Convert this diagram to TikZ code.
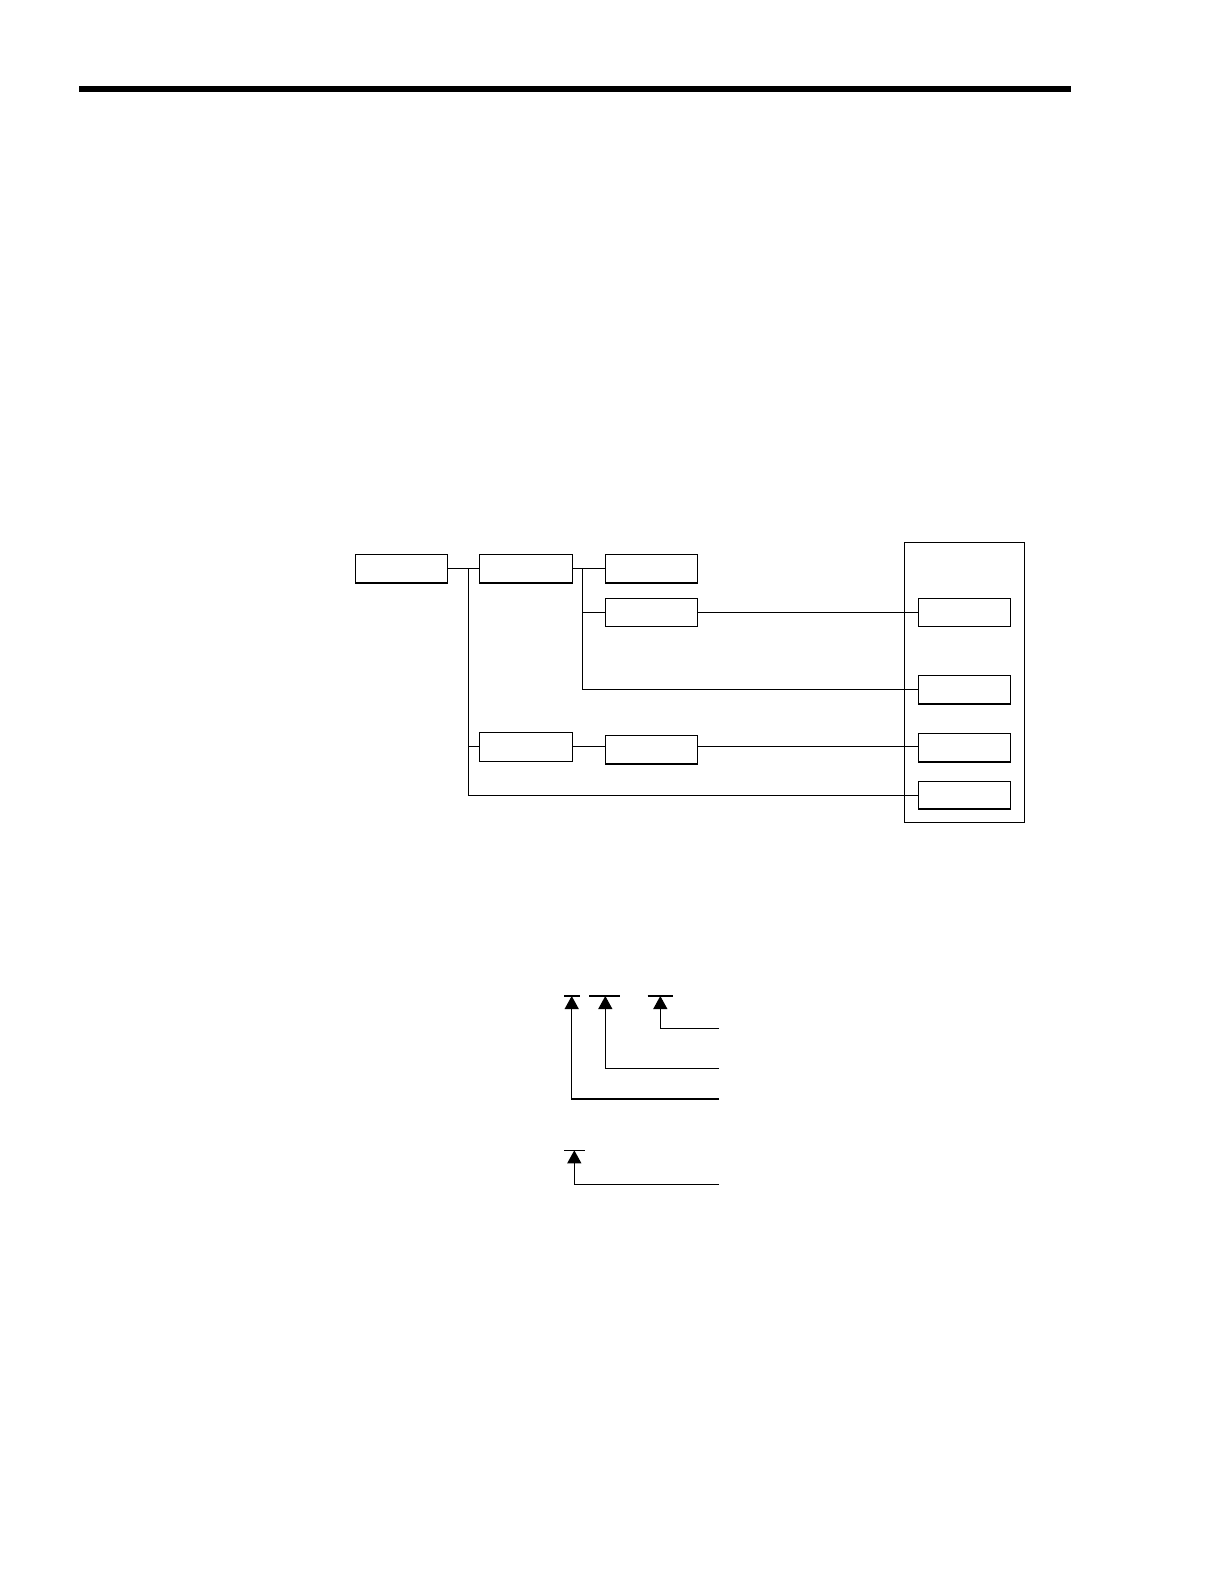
\documentclass[tikz,border=0pt]{standalone}
\usetikzlibrary{arrows.meta}
\begin{document}
\begin{tikzpicture}[x=1pt,y=-1pt,
  line width=1.2pt,
  box/.style={draw,rectangle,inner sep=0pt,minimum width=92pt,minimum height=28.5pt},
  wire/.style={line width=1.1pt},
  ptr/.style={line width=1.1pt,-{Triangle[length=13pt,width=14pt]}},
  bar/.style={line width=1.1pt}]
\useasboundingbox (0,0) rectangle (1224,1584);
% top rule
\fill (79,85.7) rectangle (1071,92.3);
% boxes
\node[box] (A) at (401.3,568.7) {};
\node[box,minimum width=93pt] (B) at (525.8,568.7) {};
\node[box] (E) at (651.5,568.7) {};
\node[box,minimum height=28pt] (F) at (651.5,612.3) {};
\node[box,minimum width=93pt,minimum height=29pt] (C) at (525.8,746.8) {};
\node[box] (D) at (651.3,749.7) {};
\node[draw,rectangle,inner sep=0pt,minimum width=120pt,minimum height=280pt] (outer) at (964.3,682.3) {};
\node[box,minimum height=28pt] (G1) at (964.3,612.3) {};
\node[box] (G2) at (964.3,689.7) {};
\node[box] (G3) at (964.3,747.7) {};
\node[box,minimum height=27.3pt] (G4) at (964.3,795.3) {};
% connectors
\coordinate (t1) at (468.3,568.7);
\coordinate (t2) at (582.3,568.7);
\draw[wire] (A.east) -- (B.west);
\draw[wire] (B.east) -- (E.west);
\draw[wire] (t1) |- (G4.west);
\draw[wire] (t1 |- C.west) -- (C.west);
\draw[wire] (t2) |- (G2.west);
\draw[wire] (t2 |- F.west) -- (F.west);
\draw[wire] (F.east) -- (G1.west);
\draw[wire] (C.east) -- (D.west |- C.east);
\draw[wire] (D.east |- C.east) -- (G3.west |- C.east);
% pointer diagram
\coordinate (b1) at (571.7,996);
\coordinate (b2) at (605.3,996);
\coordinate (b3) at (660.3,996);
\coordinate (b4) at (574.3,1150.3);
\coordinate (e1) at (719,1099);
\coordinate (e2) at (719,1068.3);
\coordinate (e3) at (719,1028.3);
\coordinate (e4) at (719,1184.3);
\draw[bar] (564.3,996) -- (580.3,996);
\draw[bar] (589,996) -- (620,996);
\draw[bar] (647.7,996) -- (673,996);
\draw[bar] (564.3,1150.3) -- (584.7,1150.3);
\draw[ptr] (e1) -| (b1);
\draw[ptr] (e2) -| (b2);
\draw[ptr] (e3) -| (b3);
\draw[ptr] (e4) -| (b4);
\end{tikzpicture}
\end{document}
